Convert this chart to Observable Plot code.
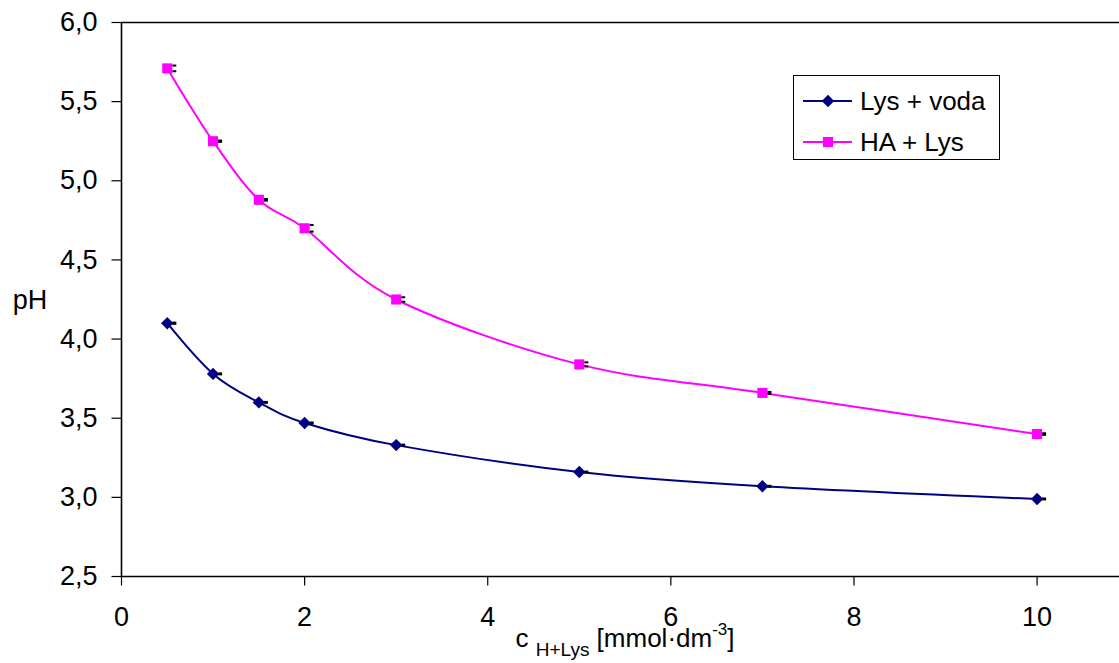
<!DOCTYPE html>
<html>
<head>
<meta charset="utf-8">
<script src="https://cdn.jsdelivr.net/npm/d3@7"></script>
<script src="https://cdn.jsdelivr.net/npm/@observablehq/plot@0.6"></script>
<style>
  html, body { margin: 0; padding: 0; background: #fff; }
  #chart svg { display: block; }
</style>
</head>
<body>
<div id="chart"></div>
<script>
// Lysine concentration (mmol·dm^-3) and measured pH
const concentration = [0.5, 1, 1.5, 2, 3, 5, 7, 10];
const phLysWater = [4.10, 3.78, 3.60, 3.47, 3.33, 3.16, 3.07, 2.99];
const errLysWater = [0.004, 0.003, 0.003, 0.003, 0.003, 0.003, 0.003, 0.003];
const phHALys = [5.71, 5.25, 4.88, 4.70, 4.25, 3.84, 3.66, 3.40];
const errHALys = [0.018, 0.004, 0.005, 0.021, 0.014, 0.013, 0.006, 0.005];

const seriesNames = ["Lys + voda", "HA + Lys"];
const seriesColors = ["#000080", "#ff00ff"];
const seriesSymbols = ["diamond2", "square"];

const xTicks = [0, 2, 4, 6, 8, 10];
const yTicks = [2.5, 3.0, 3.5, 4.0, 4.5, 5.0, 5.5, 6.0];

const rows = [
  ...concentration.map((c, i) => ({c, ph: phLysWater[i], err: errLysWater[i], series: seriesNames[0]})),
  ...concentration.map((c, i) => ({c, ph: phHALys[i], err: errHALys[i], series: seriesNames[1]}))
];

// short error-bar cap, drawn on the right of each marker
const capSymbol = {draw(ctx) { ctx.moveTo(5, 0); ctx.lineTo(9, 0); }};
// outward tick marks for the axes
const downTick = {draw(ctx) { ctx.moveTo(0, 0); ctx.lineTo(0, 9); }};
const leftTick = {draw(ctx) { ctx.moveTo(0, 0); ctx.lineTo(-10, 0); }};

const FONT = "'Liberation Sans', Arial, Helvetica, sans-serif";
const comma = d => d.toFixed(1).replace(".", ",");

const chart = Plot.plot({
  width: 1119,
  height: 663,
  marginLeft: 121,
  marginRight: 0,
  marginTop: 22,
  marginBottom: 87,
  style: `font-family: ${FONT}; color: #000; background: #fff; overflow: visible;`,
  x: {type: "linear", domain: [0, 10.9], axis: null},
  y: {type: "linear", domain: [2.5, 6.0], axis: null},
  marks: [
    // tick marks
    Plot.dot(xTicks, {x: d => d, y: () => 2.5, symbol: downTick, stroke: "#000", strokeWidth: 1.2, r: 1}),
    Plot.dot(yTicks, {x: () => 0, y: d => d, symbol: leftTick, stroke: "#000", strokeWidth: 1.2, r: 1}),
    // tick labels
    Plot.text(xTicks, {x: d => d, y: () => 2.5, text: d => String(d), dy: 41, fontSize: 27, lineAnchor: "middle", fill: "#000"}),
    Plot.text(yTicks, {x: () => 0, y: d => d, text: comma, dx: -24, fontSize: 27, textAnchor: "end", lineAnchor: "middle", fill: "#000"}),
    // axis lines and top border
    Plot.ruleX([0], {stroke: "#000", strokeWidth: 1.6}),
    Plot.ruleY([2.5], {stroke: "#000", strokeWidth: 1.6}),
    Plot.ruleY([6.0], {stroke: "#000", strokeWidth: 1.6}),
    // series
    Plot.line(rows, {x: "c", y: "ph", z: "series", stroke: d => seriesColors[seriesNames.indexOf(d.series)], strokeWidth: 2, curve: "cardinal"}),
    Plot.dot(rows, {x: "c", y: d => d.ph + d.err, symbol: capSymbol, stroke: "#000", strokeWidth: 2, r: 1}),
    Plot.dot(rows, {x: "c", y: d => d.ph - d.err, symbol: capSymbol, stroke: "#000", strokeWidth: 2, r: 1}),
    Plot.dot(rows.filter(d => d.series === seriesNames[0]), {x: "c", y: "ph", symbol: seriesSymbols[0], fill: seriesColors[0], r: 5.6}),
    Plot.dot(rows.filter(d => d.series === seriesNames[1]), {x: "c", y: "ph", symbol: seriesSymbols[1], fill: seriesColors[1], r: 5.7})
  ]
});

document.getElementById("chart").append(chart);

const svg = d3.select(chart);

// axis titles
svg.append("text")
  .attr("x", 30).attr("y", 302)
  .attr("text-anchor", "middle").attr("dominant-baseline", "middle")
  .attr("font-family", FONT).attr("font-size", 27)
  .text("pH");

const xt = svg.append("text")
  .attr("x", 625).attr("y", 647)
  .attr("text-anchor", "middle")
  .attr("font-family", FONT).attr("font-size", 26);
xt.append("tspan").text("c ");
xt.append("tspan").attr("font-size", 19).attr("dy", 9).text("H+Lys");
xt.append("tspan").attr("dy", -9).text(" [mmol·dm");
xt.append("tspan").attr("font-size", 17).attr("dy", -12).text("-3");
xt.append("tspan").attr("dy", 12).text("]");

// legend box
const lg = svg.append("g").attr("font-family", FONT).attr("font-size", 26);
lg.append("rect")
  .attr("x", 793.5).attr("y", 75.5).attr("width", 206).attr("height", 84)
  .attr("fill", "#fff").attr("stroke", "#000").attr("stroke-width", 1);
seriesNames.forEach((name, i) => {
  const yy = 101 + i * 41;
  lg.append("line")
    .attr("x1", 803).attr("x2", 852).attr("y1", yy).attr("y2", yy)
    .attr("stroke", seriesColors[i]).attr("stroke-width", 2);
  const sym = i === 0 ? d3.symbolDiamond2 : d3.symbolSquare;
  const size = i === 0 ? Math.PI * 5.6 * 5.6 : Math.PI * 5.7 * 5.7;
  lg.append("path")
    .attr("transform", `translate(828,${yy})`)
    .attr("d", d3.symbol(sym, size)())
    .attr("fill", seriesColors[i]);
  lg.append("text")
    .attr("x", 860).attr("y", yy)
    .attr("text-anchor", "start")
    .attr("dominant-baseline", "central")
    .text(name);
});
</script>
</body>
</html>
